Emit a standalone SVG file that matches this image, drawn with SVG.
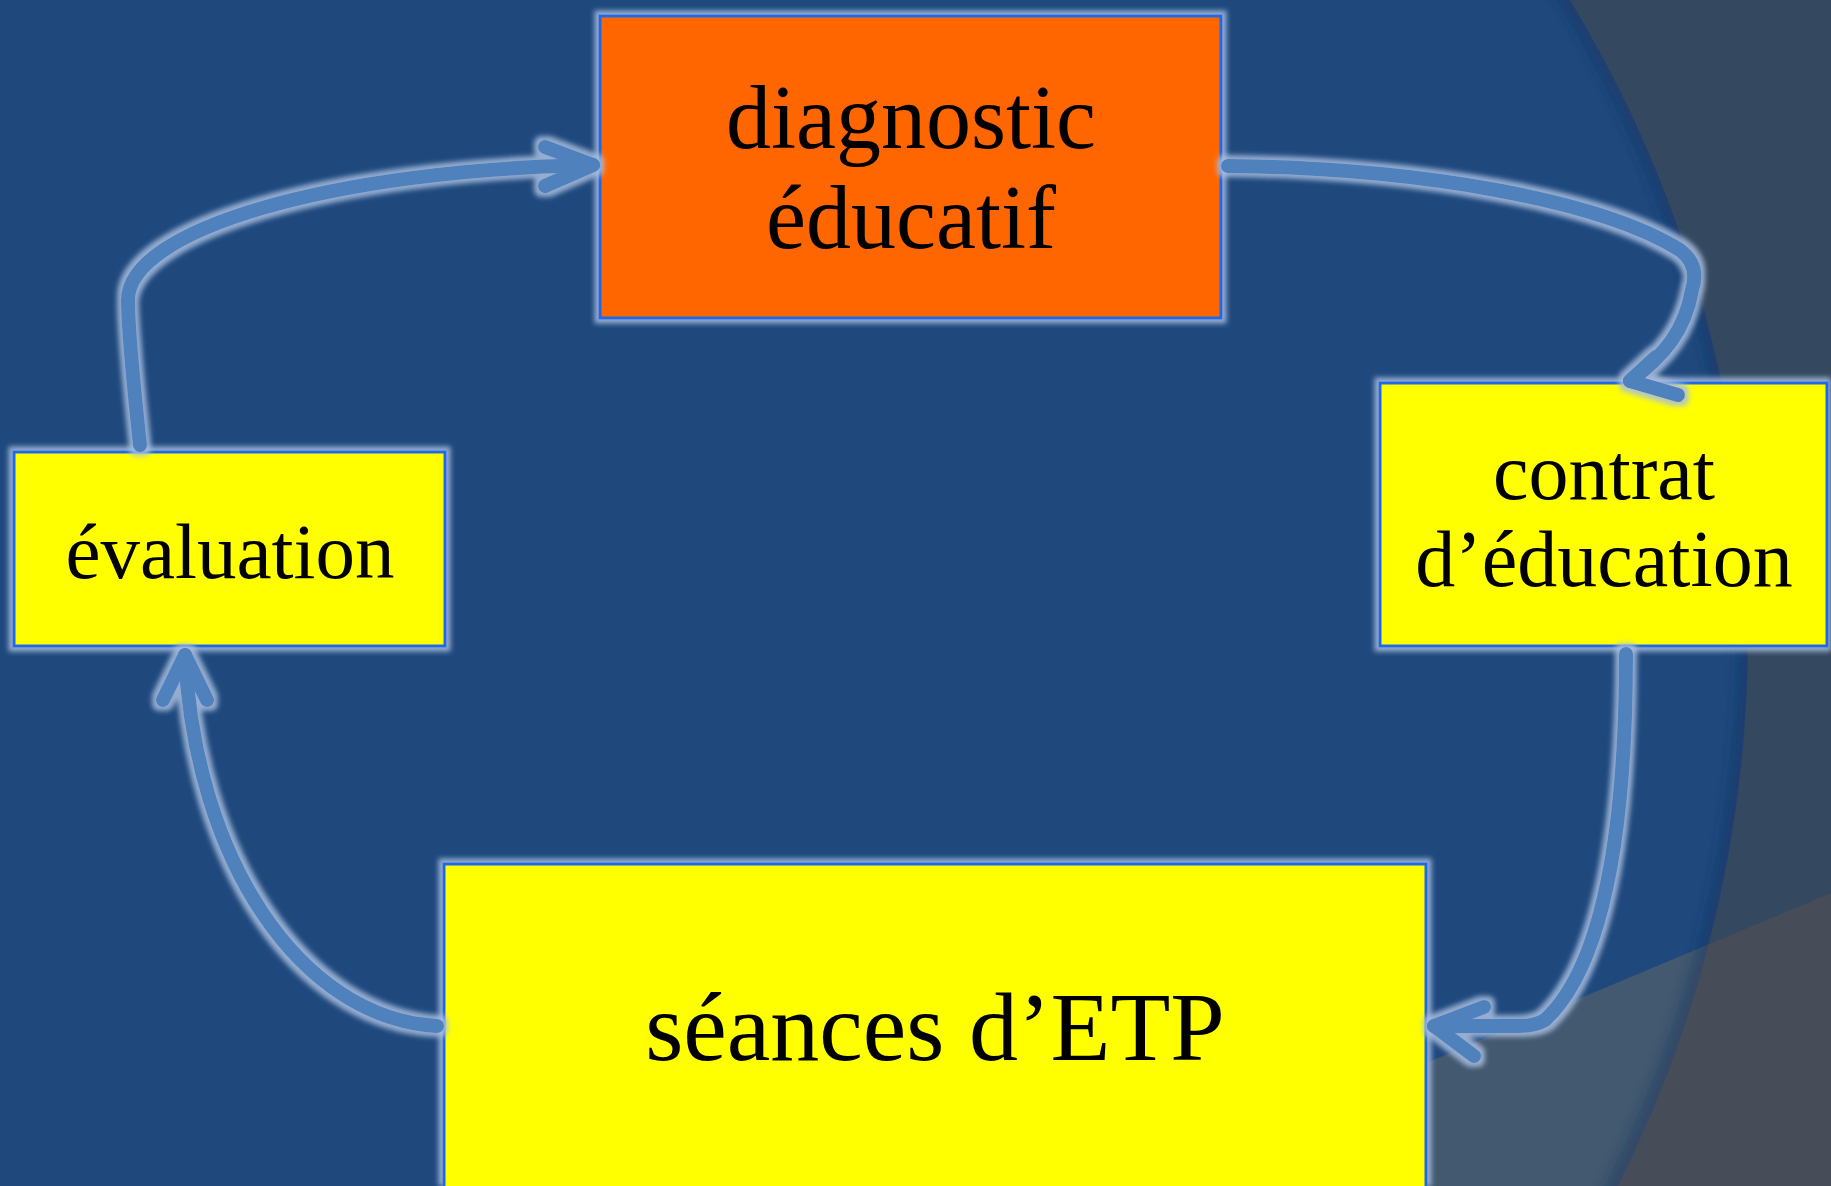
<svg xmlns="http://www.w3.org/2000/svg" width="1831" height="1186" viewBox="0 0 1831 1186">
<style>
.box{stroke:#1E6BEA;stroke-width:3}
.lbl{font-family:"Liberation Serif","DejaVu Serif",serif;fill:#000;text-anchor:middle}
.conn{fill:none;stroke:#4F81BD;stroke-width:14;stroke-linecap:round;stroke-linejoin:round}
</style>
<defs>
<filter id="glow" filterUnits="userSpaceOnUse" x="0" y="0" width="1831" height="1186">
<feMorphology in="SourceAlpha" operator="dilate" radius="4" result="d"/>
<feGaussianBlur in="d" stdDeviation="2.5" result="b"/>
<feFlood flood-color="#A8BEDF" flood-opacity="0.85"/>
<feComposite in2="b" operator="in" result="g"/>
<feMerge><feMergeNode in="g"/><feMergeNode in="SourceGraphic"/></feMerge>
</filter>
<filter id="soft" x="-5%" y="-5%" width="110%" height="110%"><feGaussianBlur stdDeviation="8"/></filter>
<clipPath id="circ"><circle cx="523" cy="636" r="1225"/></clipPath>
</defs>
<g id="background">
<rect width="1831" height="1186" fill="#34495F"/>
<polygon points="1426,1063 1831,893 1831,1186 0,1186 0,1500" fill="#474C59"/>
<circle cx="523" cy="636" r="1225" fill="#1F497D"/>
<g clip-path="url(#circ)">
<polygon points="1426,1063 1831,893 1831,1186 0,1186 0,1500" fill="#43596F"/>
<circle cx="523" cy="636" r="1225" fill="none" stroke="#0F2F5C" stroke-opacity="0.6" stroke-width="14" filter="url(#soft)"/>
</g>
</g>
<g id="node-diagnostic" filter="url(#glow)">
<rect class="box" x="600" y="16" width="621" height="302" fill="#FF6600"/>
<text class="lbl" x="911" y="148" font-size="90">diagnostic</text>
<text class="lbl" x="911" y="248" font-size="90">éducatif</text>
</g>
<g id="node-contrat" filter="url(#glow)">
<rect class="box" x="1380" y="383" width="447" height="263" fill="#FFFF00"/>
<text class="lbl" x="1604" y="499" font-size="80">contrat</text>
<text class="lbl" x="1604" y="586" font-size="80">d’éducation</text>
</g>
<g id="node-seances" filter="url(#glow)">
<rect class="box" x="444" y="864" width="982" height="340" fill="#FFFF00"/>
<text class="lbl" x="935" y="1060" font-size="98">séances d’ETP</text>
</g>
<g id="node-evaluation" filter="url(#glow)">
<rect class="box" x="14" y="452" width="431" height="194" fill="#FFFF00"/>
<text class="lbl" x="230" y="578" font-size="79">évaluation</text>
</g>
<g id="connectors" filter="url(#glow)">
<path class="conn" d="M1228,166 C1420,168 1600,200 1680,250 Q1700,265 1692,290 C1685,330 1665,355 1630,381"/>
<path class="conn" d="M1678,395 L1630,381 L1656,357"/>
<path class="conn" d="M1626,654 C1626,800 1610,960 1545,1020 Q1535,1026 1520,1026 L1434,1026"/>
<path class="conn" d="M1484,1007 L1434,1026 L1474,1056"/>
<path class="conn" d="M437,1026 C300,1018 195,860 185,655"/>
<path class="conn" d="M163,700 L185,655 L207,700"/>
<path class="conn" d="M140,445 C133,380 128,320 128,300 C128,230 330,170 593,165"/>
<path class="conn" d="M545,147 L593,165 L545,186"/>
</g>
</svg>
